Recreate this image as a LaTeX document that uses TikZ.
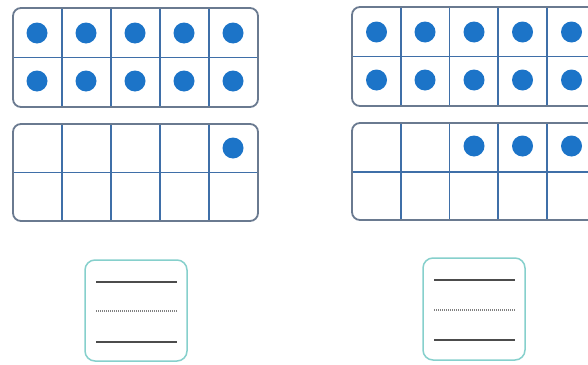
\documentclass[tikz,border=0pt]{standalone}
\begin{document}
\begin{tikzpicture}[x=1pt,y=-1pt,
  frameout/.style={draw=framegrey,line width=1.8pt,rounded corners=8pt},
  gridline/.style={draw=gridblue,line width=1.4pt},
  counter/.style={fill=dotblue},
  ansbox/.style={draw=boxteal,line width=1.5pt,rounded corners=10pt},
  wline/.style={draw=lightgray!40!black,line width=1.3pt},
  dline/.style={draw=gray,line width=1.1pt,dash pattern=on 1.2pt off 0.8pt}]
\definecolor{framegrey}{HTML}{6A7A90}
\definecolor{gridblue}{HTML}{3F6FA8}
\definecolor{dotblue}{HTML}{1C74C8}
\definecolor{boxteal}{HTML}{86D0CC}
\useasboundingbox (0,0) rectangle (588,364);
\clip (0,0) rectangle (588,364);
% ---------- left ten frames ----------
\foreach \yt/\yb/\ym in {8/107/57.5, 124/221/172.5}{
  \foreach \xx in {62,111,160,209}{\draw[gridline] (\xx,\yt) -- (\xx,\yb);}
  \draw[gridline] (13,\ym) -- (258,\ym);
  \draw[frameout] (13,\yt) rectangle (258,\yb);
}
\foreach \cx in {37,86,135,184,233}{
  \fill[counter] (\cx,33) circle (10.5);
  \fill[counter] (\cx,81) circle (10.5);
}
\fill[counter] (233,148) circle (10.5);
% ---------- right ten frames ----------
\foreach \yt/\yb/\ym in {7/106/56.5, 123/220/172}{
  \foreach \xx in {401,449.5,498,547}{\draw[gridline] (\xx,\yt) -- (\xx,\yb);}
  \draw[gridline] (352,\ym) -- (600,\ym);
  \draw[frameout] (352,\yt) rectangle (596,\yb);
}
\foreach \cx in {376.5,425,474,522.5,571.5}{
  \fill[counter] (\cx,32) circle (10.5);
  \fill[counter] (\cx,80) circle (10.5);
}
\foreach \cx in {474,522.5,571.5}{\fill[counter] (\cx,146) circle (10.5);}
% ---------- answer boxes ----------
\draw[ansbox] (85,260) rectangle (187,361);
\draw[wline] (96,282) -- (177,282);
\draw[dline] (96,311) -- (177,311);
\draw[wline] (96,342) -- (177,342);
\draw[ansbox] (423,258) rectangle (525,360);
\draw[wline] (434,280) -- (515,280);
\draw[dline] (434,310) -- (515,310);
\draw[wline] (434,340) -- (515,340);
\end{tikzpicture}
\end{document}
